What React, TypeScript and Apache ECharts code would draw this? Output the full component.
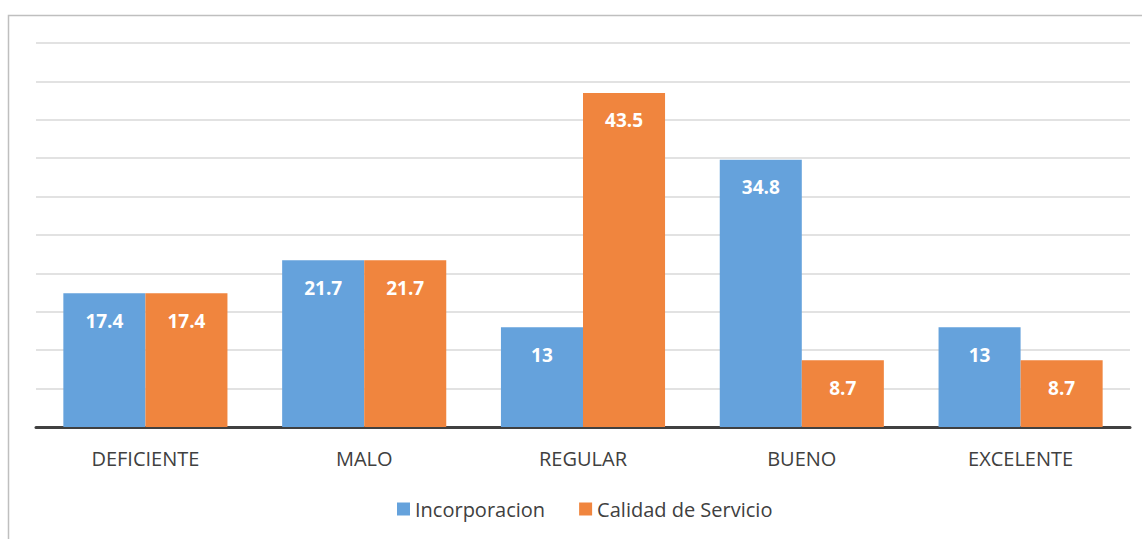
import React, { useEffect, useRef } from "react";
import * as echarts from "echarts";

const categories = ["DEFICIENTE", "MALO", "REGULAR", "BUENO", "EXCELENTE"];
const incorporacion = [17.4, 21.7, 13, 34.8, 13];
const calidadServicio = [17.4, 21.7, 43.5, 8.7, 8.7];
const seriesNames = ["Incorporacion", "Calidad de Servicio"];

export default function App() {
  const ref = useRef<HTMLDivElement>(null);
  useEffect(() => {
    if (!ref.current) return;
    const chart = echarts.init(ref.current, undefined, { renderer: "svg" });
    const label = {
      show: true,
      position: "insideTop",
      distance: 18,
      color: "#ffffff",
      fontWeight: "bold",
      fontSize: 19,
      fontFamily: "Open Sans",
    };
    chart.setOption({
      animation: false,
      backgroundColor: "#ffffff",
      graphic: [
        {
          type: "rect",
          shape: { x: 8.5, y: 15.5, width: 1200, height: 600 },
          style: { fill: "none", stroke: "#bfbfbf", lineWidth: 1.5 },
          silent: true,
        },
      ],
      grid: { left: 36, right: 12, top: 43, bottom: 112, containLabel: false },
      legend: {
        bottom: 15,
        left: 392,
        itemWidth: 13,
        itemHeight: 13,
        itemGap: 34,
        icon: "rect",
        textStyle: { color: "#404040", fontSize: 20, fontFamily: "Open Sans" },
        data: seriesNames,
      },
      xAxis: {
        type: "category",
        data: categories,
        axisLine: { lineStyle: { color: "#404040", width: 3 } },
        axisTick: { show: false },
        axisLabel: { color: "#404040", fontSize: 20, fontFamily: "Open Sans", margin: 21 },
      },
      yAxis: {
        type: "value",
        min: 0,
        max: 50,
        interval: 5,
        axisLabel: { show: false },
        axisLine: { show: false },
        axisTick: { show: false },
        splitLine: { lineStyle: { color: "#d9d9d9", width: 1.5 } },
      },
      series: [
        {
          name: seriesNames[0],
          type: "bar",
          data: incorporacion,
          barWidth: "37.5%",
          barGap: "0%",
          itemStyle: { color: "#65a2dc" },
          label,
        },
        {
          name: seriesNames[1],
          type: "bar",
          data: calidadServicio,
          barWidth: "37.5%",
          itemStyle: { color: "#f0853e" },
          label,
        },
      ],
    });
    return () => chart.dispose();
  }, []);
  return (
    <div
      ref={ref}
      style={{ position: "absolute", left: 0, top: 0, width: 1142, height: 539 }}
    />
  );
}
